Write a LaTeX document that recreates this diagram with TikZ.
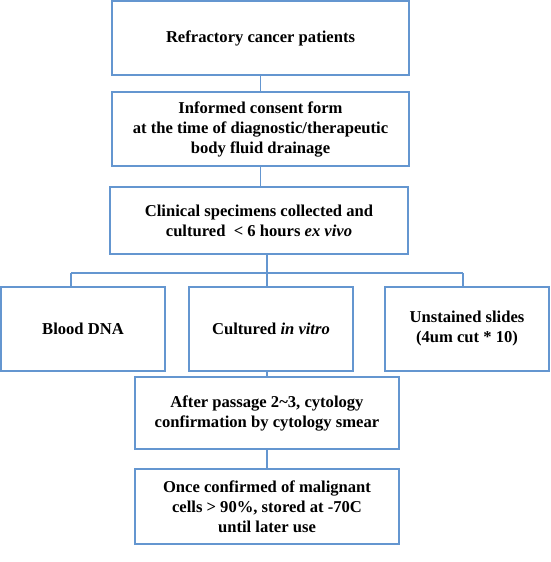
\documentclass[tikz,border=0pt]{standalone}
\usepackage{fontspec}
\setmainfont{Liberation Serif}
\definecolor{linecol}{RGB}{100,150,208}
\begin{document}
\begin{tikzpicture}[x=1pt,y=-1pt,
  box/.style={draw=linecol, line width=1.3pt, align=center, inner sep=0pt,
    font=\fontsize{16.6}{20}\selectfont\bfseries, text=black},
  link/.style={draw=linecol, line width=1.3pt}]
\useasboundingbox (0,0) rectangle (550,562);
\node[box, minimum width=297, minimum height=74] (b1) at (260.5,38) {Refractory cancer patients};
\node[box, minimum width=297, minimum height=74] (b2) at (260.5,129) {Informed consent form\\at the time of diagnostic/therapeutic\\body fluid drainage};
\node[box, minimum width=298, minimum height=67] (b3) at (259,220.5) {Clinical specimens collected and\\cultured~ < 6 hours \textit{ex vivo}};
\node[box, minimum width=164, minimum height=84] (c1) at (83,329) {Blood DNA};
\node[box, minimum width=164, minimum height=84] (c2) at (271,329) {Cultured \textit{in vitro}};
\node[box, minimum width=164, minimum height=84] (c3) at (467,329) {Unstained slides\\(4um cut * 10)};
\node[box, minimum width=264, minimum height=72] (b5) at (267,413) {After passage 2\textasciitilde3, cytology\\confirmation by cytology smear};
\node[box, minimum width=264, minimum height=75] (b6) at (267,506.5) {Once confirmed of malignant\\cells > 90\%, stored at -70C\\until later use};
\coordinate (bus) at (267,273);
\coordinate (busL) at (71,273);
\coordinate (busR) at (463,273);
\draw[link] (b1.south) -- (b1.south |- b2.north);
\draw[link] (b2.south) -- (b2.south |- b3.north);
\draw[link] (b3.south -| bus) -- (bus);
\draw[link] (busL) -- (busR);
\draw[link] (busL) -- (busL |- c1.north);
\draw[link] (busR) -- (busR |- c3.north);
\draw[link] (bus) -- (bus |- c2.north);
\draw[link] (c2.south -| bus) -- (b5.north);
\draw[link] (b5.south) -- (b6.north);
\end{tikzpicture}
\end{document}
